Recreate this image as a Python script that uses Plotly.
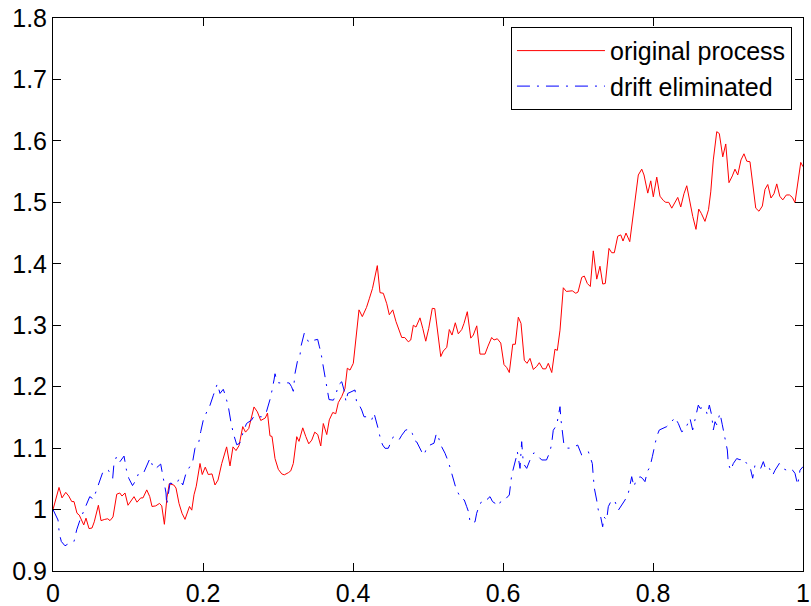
import plotly.graph_objects as go

# ---- data ----
t_orig = [0, 0.008, 0.012, 0.017, 0.021, 0.025, 0.028, 0.032, 0.035, 0.038, 0.041, 0.044, 0.048, 0.052,
          0.055, 0.0605, 0.064, 0.069, 0.073, 0.076, 0.080, 0.085, 0.089, 0.092, 0.096, 0.100, 0.104,
          0.108, 0.112, 0.117, 0.120, 0.125, 0.129, 0.132, 0.137, 0.142, 0.145, 0.1485, 0.152, 0.155,
          0.161, 0.164, 0.168, 0.172, 0.176, 0.182, 0.185, 0.188, 0.191, 0.196, 0.199, 0.203, 0.207,
          0.212, 0.216, 0.220, 0.225, 0.2315, 0.236, 0.240, 0.244, 0.248, 0.253, 0.2567, 0.261, 0.268,
          0.2725, 0.277, 0.283, 0.286, 0.2893, 0.292, 0.296, 0.3004, 0.305, 0.3084, 0.3138, 0.317,
          0.3204, 0.325, 0.328, 0.333, 0.337, 0.341, 0.345, 0.349, 0.353, 0.357, 0.3604, 0.365, 0.3684,
          0.373, 0.377, 0.3804, 0.385, 0.3893, 0.3924, 0.396, 0.4004, 0.404, 0.408, 0.4124, 0.418,
          0.4217, 0.426, 0.4324, 0.436, 0.4404, 0.445, 0.4484, 0.453, 0.4573, 0.4617, 0.465, 0.469,
          0.4737, 0.477, 0.4804, 0.484, 0.4893, 0.493, 0.497, 0.501, 0.5057, 0.509, 0.5124, 0.517,
          0.5204, 0.525, 0.5284, 0.532, 0.5364, 0.5404, 0.545, 0.548, 0.5524, 0.557, 0.5604, 0.565,
          0.5693, 0.576, 0.580, 0.5849, 0.588, 0.5924, 0.597, 0.6013, 0.605, 0.6084, 0.613, 0.6164,
          0.6204, 0.624, 0.6284, 0.632, 0.636, 0.6404, 0.645, 0.6484, 0.653, 0.657, 0.6604, 0.665,
          0.6693, 0.6724, 0.676, 0.6804, 0.6844, 0.689, 0.6924, 0.697, 0.700, 0.705, 0.7084, 0.7124,
          0.7164, 0.7204, 0.725, 0.7293, 0.733, 0.7364, 0.7413, 0.745, 0.7484, 0.753, 0.757, 0.760,
          0.764, 0.769, 0.7747, 0.7804, 0.785, 0.788, 0.793, 0.797, 0.8004, 0.805, 0.8093, 0.8138,
          0.817, 0.821, 0.825, 0.8293, 0.833, 0.837, 0.8413, 0.845, 0.849, 0.853, 0.8573, 0.861,
          0.8644, 0.8693, 0.874, 0.877, 0.8804, 0.885, 0.8884, 0.893, 0.897, 0.9013, 0.9058, 0.9093,
          0.913, 0.9173, 0.9213, 0.925, 0.9293, 0.933, 0.937, 0.9413, 0.9458, 0.9493, 0.953, 0.9573,
          0.9613, 0.965, 0.969, 0.973, 0.9778, 0.982, 0.9858, 0.9893, 0.9938, 0.997, 1.0]
v_orig = [1.0, 1.036, 1.019, 1.028, 1.022, 1.013, 1.013, 0.994, 0.991, 0.983, 0.975, 0.986, 0.969, 0.970,
          0.980, 1.007, 0.982, 0.984, 0.985, 0.982, 0.988, 1.025, 1.027, 1.022, 1.027, 1.007, 1.015,
          1.021, 1.012, 1.019, 1.019, 1.032, 1.021, 1.005, 1.006, 1.010, 1.006, 0.976, 1.020, 1.042,
          1.040, 1.035, 1.010, 0.994, 0.984, 1.005, 0.999, 1.024, 1.038, 1.075, 1.057, 1.069, 1.057,
          1.058, 1.040, 1.048, 1.075, 1.102, 1.071, 1.102, 1.096, 1.104, 1.135, 1.126, 1.132, 1.167,
          1.159, 1.145, 1.149, 1.157, 1.120, 1.119, 1.083, 1.0655, 1.058, 1.0565, 1.060, 1.063,
          1.075, 1.1186, 1.111, 1.133, 1.119, 1.107, 1.113, 1.126, 1.122, 1.1035, 1.140, 1.122, 1.146,
          1.158, 1.156, 1.174, 1.184, 1.197, 1.230, 1.227, 1.238, 1.284, 1.325, 1.314, 1.329,
          1.343, 1.360, 1.397, 1.353, 1.352, 1.335, 1.317, 1.325, 1.306, 1.290, 1.280, 1.280,
          1.273, 1.276, 1.300, 1.297, 1.312, 1.295, 1.274, 1.295, 1.3275, 1.327, 1.292, 1.249,
          1.258, 1.264, 1.293, 1.284, 1.304, 1.286, 1.293, 1.303, 1.322, 1.279, 1.284, 1.299,
          1.253, 1.253, 1.266, 1.280, 1.276, 1.278, 1.271, 1.236, 1.231, 1.223, 1.269, 1.269,
          1.313, 1.303, 1.243, 1.238, 1.246, 1.228, 1.233, 1.239, 1.229, 1.229, 1.238, 1.223,
          1.261, 1.259, 1.292, 1.361, 1.355, 1.355, 1.356, 1.352, 1.354, 1.378, 1.380, 1.368,
          1.363, 1.421, 1.375, 1.396, 1.367, 1.368, 1.425, 1.418, 1.418, 1.445, 1.447, 1.437,
          1.450, 1.436, 1.488, 1.5445, 1.554, 1.5445, 1.515, 1.535, 1.509, 1.541, 1.510, 1.503,
          1.500, 1.500, 1.4905, 1.501, 1.508, 1.4925, 1.514, 1.527, 1.499, 1.477, 1.456, 1.489,
          1.482, 1.469, 1.488, 1.517, 1.569, 1.615, 1.612, 1.574, 1.595, 1.532, 1.543, 1.554,
          1.5445, 1.569, 1.579, 1.567, 1.566, 1.528, 1.4905, 1.4855, 1.494, 1.521, 1.529, 1.507,
          1.514, 1.530, 1.510, 1.504, 1.512, 1.512, 1.508, 1.4995, 1.534, 1.565, 1.558]

t_drift = [0, 0.0067, 0.0084, 0.0111, 0.016, 0.0227, 0.028, 0.0316, 0.036, 0.0404, 0.045, 0.049, 0.0538,
           0.058, 0.0627, 0.067, 0.0738, 0.0796, 0.0813, 0.085, 0.0893, 0.0947, 0.098, 0.101, 0.106,
           0.1107, 0.1138, 0.118, 0.1213, 0.125, 0.1293, 0.134, 0.138, 0.1436, 0.147, 0.1507, 0.1516,
           0.156, 0.1604, 0.165, 0.1684, 0.173, 0.1773, 0.182, 0.1862, 0.1893, 0.194, 0.197, 0.2004,
           0.205, 0.2084, 0.2138, 0.219, 0.2227, 0.227, 0.2298, 0.2338, 0.237, 0.2404, 0.245, 0.249,
           0.253, 0.258, 0.265, 0.268, 0.2738, 0.278, 0.284, 0.2862, 0.2902, 0.2947, 0.296, 0.2991,
           0.3027, 0.3093, 0.315, 0.318, 0.3204, 0.3227, 0.3258, 0.3293, 0.3307, 0.335, 0.3387, 0.341,
           0.346, 0.3529, 0.355, 0.3573, 0.3596, 0.3627, 0.3658, 0.368, 0.3738, 0.377, 0.3804, 0.385,
           0.388, 0.3907, 0.393, 0.4027, 0.405, 0.4084, 0.4116, 0.4147, 0.419, 0.4249, 0.428, 0.4307,
           0.4338, 0.4369, 0.4396, 0.4427, 0.447, 0.4538, 0.4573, 0.4613, 0.465, 0.4702, 0.476, 0.4791,
           0.4813, 0.485, 0.4916, 0.4947, 0.498, 0.5027, 0.508, 0.5107, 0.5124, 0.517, 0.5227, 0.5271,
           0.5316, 0.5347, 0.5373, 0.5436, 0.5484, 0.5516, 0.5547, 0.556, 0.5627, 0.5649, 0.568,
           0.5724, 0.578, 0.5827, 0.586, 0.590, 0.5938, 0.598, 0.604, 0.6084, 0.6102, 0.6116, 0.6173,
           0.6191, 0.6227, 0.6249, 0.6271, 0.6316, 0.6369, 0.6413, 0.6458, 0.6516, 0.658, 0.6627,
           0.6649, 0.667, 0.6716, 0.676, 0.6773, 0.6796, 0.6813, 0.685, 0.6916, 0.6996, 0.7049,
           0.7093, 0.7138, 0.716, 0.7191, 0.7204, 0.7218, 0.7249, 0.7271, 0.7302, 0.7329, 0.7347,
           0.7382, 0.7404, 0.7449, 0.7493, 0.7538, 0.7627, 0.767, 0.7716, 0.7747, 0.7773, 0.7827,
           0.7858, 0.7893, 0.7924, 0.796, 0.7991, 0.8027, 0.8049, 0.8084, 0.8129, 0.8182, 0.8249,
           0.8293, 0.8338, 0.8382, 0.8427, 0.8471, 0.8493, 0.8529, 0.856, 0.8591, 0.8604, 0.8627,
           0.8671, 0.8707, 0.8724, 0.8751, 0.8782, 0.8804, 0.8827, 0.8849, 0.8893, 0.8924, 0.8947,
           0.8973, 0.8991, 0.9004, 0.9036, 0.9071, 0.9116, 0.916, 0.9204, 0.9249, 0.9293, 0.9329,
           0.936, 0.9404, 0.9436, 0.9471, 0.9507, 0.9551, 0.9596, 0.9627, 0.9684, 0.9729, 0.9782,
           0.9827, 0.9862, 0.9893, 0.9929, 0.996, 1.0]
v_drift = [1.0, 0.983, 0.961, 0.948, 0.941, 0.946, 0.948, 0.967, 0.983, 0.9965, 1.010, 1.021, 1.017,
           1.032, 1.048, 1.063, 1.064, 1.051, 1.075, 1.087, 1.078, 1.087, 1.064, 1.051, 1.039,
           1.048, 1.058, 1.062, 1.061, 1.0725, 1.0834, 1.067, 1.068, 1.074, 1.051, 1.027, 1.0074,
           1.043, 1.042, 1.042, 1.051, 1.040, 1.059, 1.068, 1.078, 1.0997, 1.107, 1.127, 1.1458,
           1.159, 1.1664, 1.186, 1.2044, 1.189, 1.1957, 1.186, 1.1674, 1.144, 1.124, 1.1055, 1.108,
           1.124, 1.140, 1.146, 1.152, 1.151, 1.151, 1.1567, 1.167, 1.1827, 1.211, 1.221, 1.2067,
           1.206, 1.2065, 1.206, 1.200, 1.1925, 1.2217, 1.2407, 1.251, 1.266, 1.287, 1.279, 1.272,
           1.275, 1.277, 1.266, 1.2553, 1.238, 1.216, 1.1946, 1.179, 1.178, 1.186, 1.2027, 1.208,
           1.1946, 1.1756, 1.189, 1.1946, 1.173, 1.170, 1.162, 1.151, 1.151, 1.1458, 1.157, 1.146,
           1.1306, 1.113, 1.105, 1.0997, 1.0997, 1.1186, 1.116, 1.1133, 1.121, 1.1295, 1.1306, 1.124,
           1.113, 1.110, 1.094, 1.0885, 1.0997, 1.105, 1.108, 1.1214, 1.124, 1.105, 1.0916, 1.078,
           1.059, 1.045, 1.0346, 1.0183, 1.0156, 1.0047, 0.994, 0.9786, 0.980, 0.994, 1.005,
           1.0156, 1.0156, 1.021, 1.013, 1.0097, 1.0058, 1.0156, 1.018, 1.0237, 1.0426, 1.056, 1.0834,
           1.0943, 1.067, 1.1105, 1.075, 1.067, 1.0834, 1.0926, 1.088, 1.0807, 1.0807, 1.0943,
           1.1078, 1.129, 1.1376, 1.1674, 1.146, 1.127, 1.105, 1.100, 1.100, 1.105, 1.0888,
           1.0916, 1.0943, 1.086, 1.075, 1.0535, 1.0346, 1.0156, 0.999, 0.9884, 0.972, 0.988,
           0.983, 1.0047, 1.0156, 1.013, 0.999, 1.0156, 1.026, 1.0535, 1.037, 1.048, 1.0535,
           1.051, 1.0454, 1.0617, 1.0698, 1.086, 1.105, 1.1187, 1.1295, 1.132, 1.135, 1.143,
           1.150, 1.140, 1.1267, 1.1295, 1.143, 1.1485, 1.1295, 1.1485, 1.1648, 1.170, 1.1648,
           1.166, 1.162, 1.154, 1.170, 1.154, 1.1295, 1.143, 1.138, 1.1567, 1.138, 1.124,
           1.113, 1.0969, 1.075, 1.064, 1.075, 1.083, 1.081, 1.083, 1.075, 1.0698, 1.051,
           1.0725, 1.0698, 1.067, 1.078, 1.064, 1.067, 1.056, 1.064, 1.075, 1.067, 1.064,
           1.067, 1.064, 1.059, 1.040, 1.064, 1.0698]

x_ticks = [0, 0.2, 0.4, 0.6, 0.8, 1]
x_ticklabels = ["0", "0.2", "0.4", "0.6", "0.8", "1"]
y_ticks = [0.9, 1.0, 1.1, 1.2, 1.3, 1.4, 1.5, 1.6, 1.7, 1.8]
y_ticklabels = ["0.9", "1", "1.1", "1.2", "1.3", "1.4", "1.5", "1.6", "1.7", "1.8"]
series_names = ["original process", "drift eliminated"]

FONT = "Liberation Sans, Arial, Helvetica, sans-serif"

fig = go.Figure()
fig.add_trace(go.Scatter(x=t_orig, y=v_orig, mode="lines", name=series_names[0],
                         line=dict(color="#ff0000", width=1)))
fig.add_trace(go.Scatter(x=t_drift, y=v_drift, mode="lines", name=series_names[1],
                         line=dict(color="#0000ff", width=1, dash="13px,7px,2px,7px")))

axis_common = dict(showline=True, linecolor="black", linewidth=1, mirror="ticks",
                   ticks="inside", ticklen=8, tickcolor="black", tickwidth=1,
                   showgrid=False, zeroline=False, automargin=False,
                   tickfont=dict(family=FONT, size=25, color="black"))

fig.update_xaxes(range=[0, 1], tickvals=x_ticks, ticktext=x_ticklabels, **axis_common)
fig.update_yaxes(range=[0.9, 1.8], tickvals=y_ticks, ticktext=y_ticklabels, **axis_common)

fig.update_layout(
    width=811, height=606,
    margin=dict(l=53, r=8, t=18, b=35, pad=0, autoexpand=False),
    paper_bgcolor="white", plot_bgcolor="white",
    font=dict(family=FONT, color="black"),
    showlegend=True,
    legend=dict(x=0.9853, y=0.984, xanchor="right", yanchor="top",
                bgcolor="white", bordercolor="black", borderwidth=1,
                font=dict(family=FONT, size=25, color="black"),
                itemwidth=88, tracegroupgap=0),
)

fig.write_html("out.html")
